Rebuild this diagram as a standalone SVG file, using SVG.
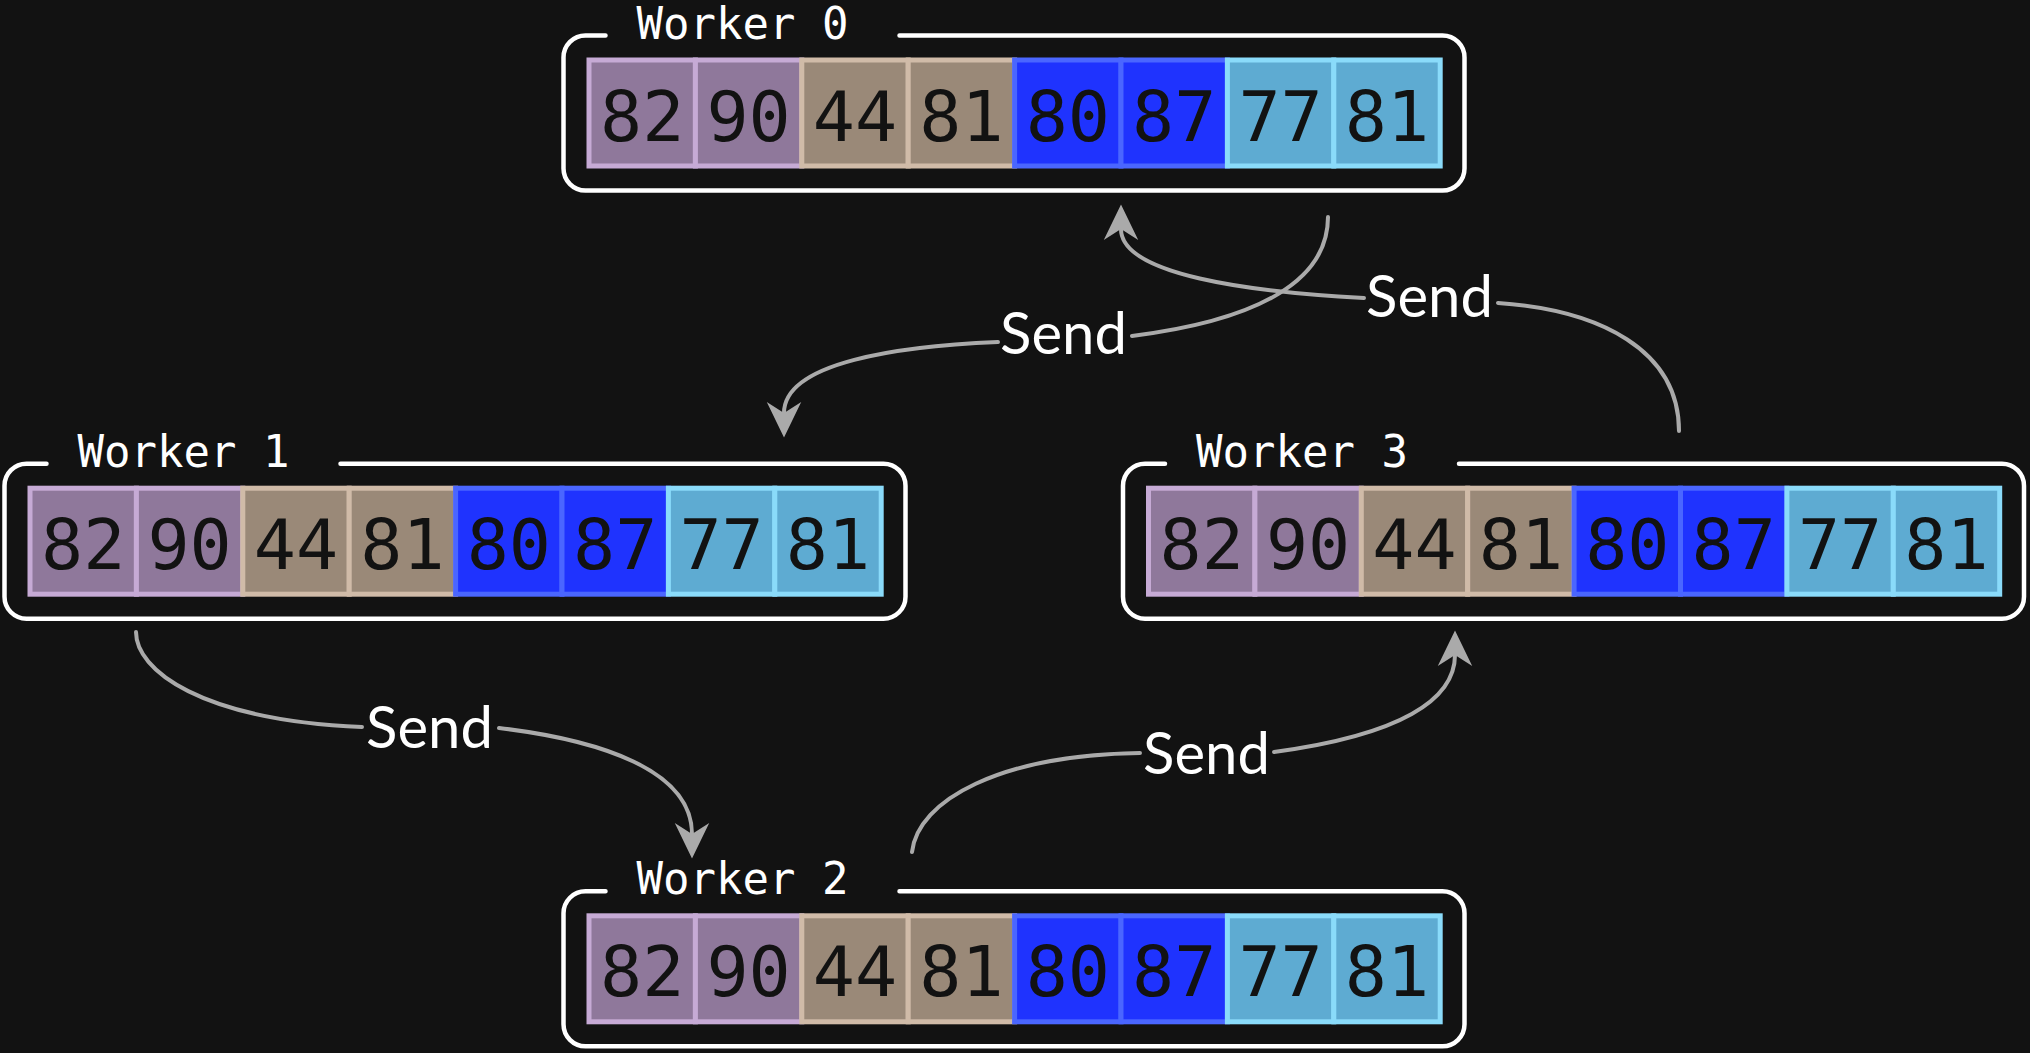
<svg xmlns="http://www.w3.org/2000/svg" width="2030" height="1053" viewBox="0 0 2030 1053">
<defs>
<style>
.bg{fill:#121212}
.box{fill:none;stroke:#ffffff;stroke-width:4.5;stroke-linecap:round}
.wl{font-family:"DejaVu Sans Mono","Liberation Mono",monospace;font-size:44px;fill:#ffffff}
.num{font-family:"DejaVu Sans Mono","Liberation Mono",monospace;font-size:70px;fill:#121212;text-anchor:middle}
.p{fill:#8f789b;stroke:#c6aad5;stroke-width:5}
.t{fill:#9a8978;stroke:#d0bba8;stroke-width:5}
.b{fill:#1f33fe;stroke:#4a66ff;stroke-width:5}
.c{fill:#5eabd2;stroke:#8adbfa;stroke-width:5}
.edge{fill:none;stroke:#aaaaaa;stroke-width:4;stroke-linecap:round}
.lbl{font-family:Lato,"Open Sans","Noto Sans",sans-serif;font-size:58px;fill:#ffffff;text-anchor:middle}
</style>
<marker id="ah" markerUnits="userSpaceOnUse" markerWidth="40" markerHeight="40" viewBox="-2 -18 36 36" refX="10" refY="0" orient="auto">
<path d="M0,-15.5 L32,0 L0,15.5 L10,0 Z" fill="#aaaaaa"/>
</marker>
<g id="cells">
<rect class="p" x="2.5" y="2.5" width="106.4" height="106"/>
<rect class="p" x="108.9" y="2.5" width="106.4" height="106"/>
<rect class="t" x="215.3" y="2.5" width="106.4" height="106"/>
<rect class="t" x="321.7" y="2.5" width="106.4" height="106"/>
<rect class="b" x="428.1" y="2.5" width="106.4" height="106"/>
<rect class="b" x="534.5" y="2.5" width="106.4" height="106"/>
<rect class="c" x="640.9" y="2.5" width="106.4" height="106"/>
<rect class="c" x="747.3" y="2.5" width="106.4" height="106"/>
<text class="num" x="55.7" y="83">82</text>
<text class="num" x="162.1" y="83">90</text>
<text class="num" x="268.5" y="83">44</text>
<text class="num" x="374.9" y="83">81</text>
<text class="num" x="481.3" y="83">80</text>
<text class="num" x="587.7" y="83">87</text>
<text class="num" x="694.1" y="83">77</text>
<text class="num" x="800.5" y="83">81</text>
<path class="box" d="M313,-22 H856 A22,22 0 0 1 878,0 V111 A22,22 0 0 1 856,133 H-1 A22,22 0 0 1 -23,111 V0 A22,22 0 0 1 -1,-22 H19"/>
</g>
</defs>
<rect class="bg" x="0" y="0" width="2030" height="1053"/>

<g id="connectors">
<path class="edge" d="M1328,217 C1328,280 1260,320 1132,336"/>
<path class="edge" d="M998,342 C900,346 784,362 784,413" marker-end="url(#ah)"/>
<text class="lbl" x="1063.5" y="354">Send</text>

<path class="edge" d="M136,632 C136,670 200,720 362,727"/>
<path class="edge" d="M499,728 C600,740 692,770 692,834" marker-end="url(#ah)"/>
<text class="lbl" x="429.5" y="748">Send</text>

<path class="edge" d="M912,852 C918,800 1000,755 1140,753"/>
<path class="edge" d="M1274,752 C1400,735 1455,700 1455,655" marker-end="url(#ah)"/>
<text class="lbl" x="1206.5" y="774">Send</text>

<path class="edge" d="M1679,431 C1679,350 1600,310 1498,303"/>
<path class="edge" d="M1364,298 C1250,292 1121,275 1121,229" marker-end="url(#ah)"/>
<text class="lbl" x="1429.5" y="317">Send</text>
</g>

<g id="worker0" transform="translate(586.5,57.5)">
<use href="#cells"/>
<text class="wl" x="50" y="-19">Worker 0</text>
</g>
<g id="worker1" transform="translate(27.5,485.7)">
<use href="#cells"/>
<text class="wl" x="50" y="-19">Worker 1</text>
</g>
<g id="worker2" transform="translate(586.5,913.3)">
<use href="#cells"/>
<text class="wl" x="50" y="-19">Worker 2</text>
</g>
<g id="worker3" transform="translate(1146,485.7)">
<use href="#cells"/>
<text class="wl" x="50" y="-19">Worker 3</text>
</g>
</svg>
